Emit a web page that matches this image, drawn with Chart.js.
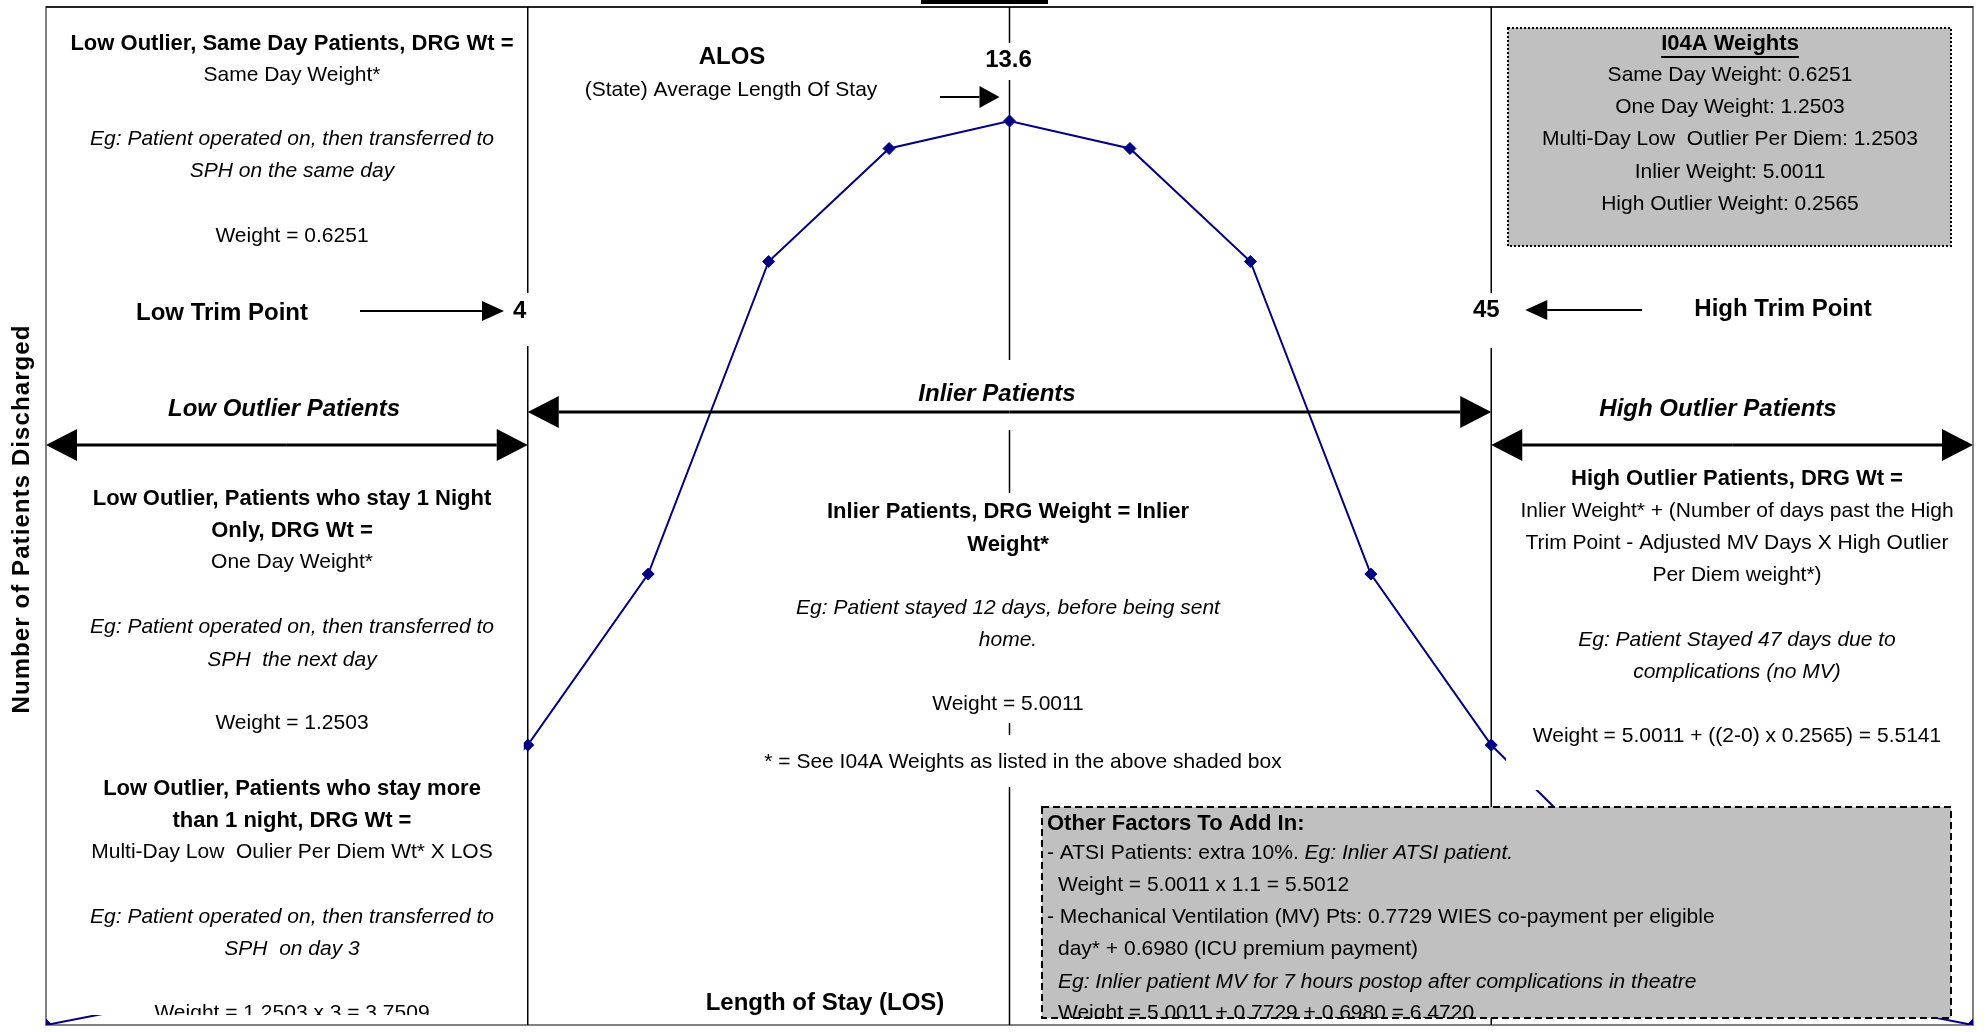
<!DOCTYPE html>
<html>
<head>
<meta charset="utf-8">
<script src="https://cdn.jsdelivr.net/npm/chart.js@4.4.1/dist/chart.umd.min.js"></script>
<style>
html, body { margin: 0; padding: 0; background: #fff; }
#wrap { width: 1986px; height: 1032px; position: relative; }
</style>
</head>
<body>
<div id="wrap"><canvas id="losChart"></canvas></div>
<script>
// LOS positions along the x axis (schematic, not to scale)
const losIndex = [0, 1, 2, 3, 4, 5, 6, 7, 8, 9, 10, 11, 12, 13, 14, 15, 16];
// number of patients discharged (relative height of the curve)
const discharged = [0, 2.3, 9.0, 15.8, 27.5, 44.3, 75.0, 86.1, 88.8, 86.1, 75.0, 44.3, 27.5, 15.8, 9.0, 2.3, 0];
// marker lines: low trim point, ALOS, high trim point
const markerIndex = [4, 8, 12];
const markerLabels = ['4', '13.6', '45'];
// I04A weights box
const weightNames = ['Same Day Weight', 'One Day Weight', 'Multi-Day Low  Outlier Per Diem', 'Inlier Weight', 'High Outlier Weight'];
const weightValues = ['0.6251', '1.2503', '1.2503', '5.0011', '0.2565'];

const FAM = '"Liberation Sans", Arial, sans-serif';
const REG = '21px ' + FAM;
const IT = 'italic 21px ' + FAM;
const B = 'bold 22px ' + FAM;
const BIG = 'bold 24px ' + FAM;
const BIGI = 'italic bold 24px ' + FAM;

// left column notes [text, y, font]
const leftNotes = [
	['Low Outlier, Same Day Patients, DRG Wt =', 44, B],
	['Same Day Weight*', 75, REG],
	['Eg: Patient operated on, then transferred to', 139, IT],
	['SPH on the same day', 171, IT],
	['Weight = 0.6251', 236, REG],
	['Low Outlier, Patients who stay 1 Night', 499, B],
	['Only, DRG Wt =', 531, B],
	['One Day Weight*', 562, REG],
	['Eg: Patient operated on, then transferred to', 627, IT],
	['SPH  the next day', 660, IT],
	['Weight = 1.2503', 723, REG],
	['Low Outlier, Patients who stay more', 789, B],
	['than 1 night, DRG Wt =', 821, B],
	['Multi-Day Low  Oulier Per Diem Wt* X LOS', 852, REG],
	['Eg: Patient operated on, then transferred to', 917, IT],
	['SPH  on day 3', 949, IT]
];
const midNotes = [
	['Inlier Patients, DRG Weight = Inlier', 512, B],
	['Weight*', 545, B],
	['Eg: Patient stayed 12 days, before being sent', 608, IT],
	['home.', 640, IT],
	['Weight = 5.0011', 704, REG]
];
const rightNotes = [
	['High Outlier Patients, DRG Wt =', 479, B],
	['Inlier Weight* + (Number of days past the High', 511, REG],
	['Trim Point - Adjusted MV Days X High Outlier', 543, REG],
	['Per Diem weight*)', 575, REG],
	['Eg: Patient Stayed 47 days due to', 640, IT],
	['complications (no MV)', 672, IT],
	['Weight = 5.0011 + ((2-0) x 0.2565) = 5.5141', 736, REG]
];

function put(ctx, s, x, y, font, align) {
	ctx.font = font;
	ctx.textAlign = align || 'center';
	ctx.fillText(s, x, y);
}

// single arrow, tip at x2
function arrow(ctx, x1, x2, y, head, half, lw) {
	const dir = x2 > x1 ? 1 : -1;
	ctx.lineWidth = lw;
	ctx.beginPath();
	ctx.moveTo(x1, y);
	ctx.lineTo(x2 - dir * head, y);
	ctx.stroke();
	ctx.beginPath();
	ctx.moveTo(x2, y);
	ctx.lineTo(x2 - dir * head, y - half);
	ctx.lineTo(x2 - dir * head, y + half);
	ctx.closePath();
	ctx.fill();
}

function doubleArrow(ctx, x1, x2, y) {
	const mid = (x1 + x2) / 2;
	arrow(ctx, mid, x1, y, 31, 16, 3);
	arrow(ctx, mid, x2, y, 31, 16, 3);
}

function whiteBox(ctx, x1, y1, x2, y2) {
	ctx.fillStyle = '#fff';
	ctx.fillRect(x1, y1, x2 - x1, y2 - y1);
}

const framePlugin = {
	id: 'frame',
	beforeDatasetsDraw(chart) {
		const ctx = chart.ctx;
		const a = chart.chartArea;
		const xs = chart.scales.x;
		ctx.save();
		// plot frame
		ctx.strokeStyle = '#808080';
		ctx.lineWidth = 2;
		ctx.strokeRect(a.left, a.top, a.right - a.left, a.bottom - a.top);
		ctx.strokeStyle = '#222';
		ctx.beginPath();
		ctx.moveTo(a.left, a.top);
		ctx.lineTo(a.right, a.top);
		ctx.stroke();
		// trim points and ALOS
		ctx.strokeStyle = '#000';
		ctx.lineWidth = 1.5;
		markerIndex.forEach(m => {
			const px = xs.getPixelForValue(m);
			ctx.beginPath();
			ctx.moveTo(px, a.top);
			ctx.lineTo(px, a.bottom);
			ctx.stroke();
		});
		ctx.restore();
	}
};

const notesPlugin = {
	id: 'notes',
	afterDatasetsDraw(chart) {
		const ctx = chart.ctx;
		const a = chart.chartArea;
		const xs = chart.scales.x;
		const lowX = xs.getPixelForValue(markerIndex[0]);
		const alosX = xs.getPixelForValue(markerIndex[1]);
		const highX = xs.getPixelForValue(markerIndex[2]);
		ctx.save();
		ctx.textBaseline = 'middle';

		// white text areas that sit over the curve and lines
		whiteBox(ctx, 56, 22, lowX - 4, 1015);
		whiteBox(ctx, 1506, 460, 1965, 790);
		whiteBox(ctx, 900, 360, 1100, 430);
		whiteBox(ctx, 780, 493, 1240, 723);
		whiteBox(ctx, 750, 735, 1300, 787);
		whiteBox(ctx, lowX - 21, 293, lowX + 7, 346);
		whiteBox(ctx, alosX - 24, 43, alosX + 26, 80);
		whiteBox(ctx, highX - 23, 293, highX + 11, 348);

		ctx.fillStyle = '#000';
		ctx.strokeStyle = '#000';

		// cut-off heading at the very top
		ctx.fillRect(921, 0, 127, 4);

		// left column
		leftNotes.forEach(n => put(ctx, n[0], 292, n[1], n[2]));
		ctx.save();
		ctx.beginPath();
		ctx.rect(56, 990, 470, 25);
		ctx.clip();
		put(ctx, 'Weight = 1.2503 x 3 = 3.7509', 292, 1013, REG);
		ctx.restore();

		put(ctx, 'Low Trim Point', 222, 313, BIG);
		arrow(ctx, 360, 504, 311, 22, 10, 2);
		put(ctx, markerLabels[0], lowX - 8, 311, BIG);
		put(ctx, 'Low Outlier Patients', 284, 409, BIGI);
		doubleArrow(ctx, a.left, lowX, 445);

		// middle
		put(ctx, 'ALOS', 732, 57, BIG);
		put(ctx, '(State) Average Length Of Stay', 731, 90, REG);
		arrow(ctx, 940, alosX - 10, 97, 20, 11, 2);
		put(ctx, markerLabels[1], alosX - 1, 60, BIG);
		put(ctx, 'Inlier Patients', 997, 394, BIGI);
		doubleArrow(ctx, lowX, highX, 412);
		midNotes.forEach(n => put(ctx, n[0], 1008, n[1], n[2]));
		put(ctx, '* = See I04A Weights as listed in the above shaded box', 1023, 762, REG);
		put(ctx, 'Length of Stay (LOS)', 825, 1003, BIG);

		// right column
		ctx.fillStyle = '#c0c0c0';
		ctx.fillRect(1508, 28, 443, 218);
		ctx.strokeStyle = '#000';
		ctx.lineWidth = 2;
		ctx.setLineDash([2, 2]);
		ctx.strokeRect(1508, 28, 443, 218);
		ctx.setLineDash([]);
		ctx.fillStyle = '#000';
		put(ctx, 'I04A Weights', 1730, 44, B);
		const tw = ctx.measureText('I04A Weights').width;
		ctx.fillRect(1730 - tw / 2, 56, tw, 2);
		weightNames.forEach((w, i) => {
			put(ctx, w + ': ' + weightValues[i], 1730, 75 + i * 32.3, REG);
		});

		put(ctx, markerLabels[2], highX - 5, 310, BIG);
		arrow(ctx, 1642, highX + 34, 310, 22, 10, 2);
		put(ctx, 'High Trim Point', 1783, 309, BIG);
		put(ctx, 'High Outlier Patients', 1718, 409, BIGI);
		doubleArrow(ctx, highX, a.right, 445);
		rightNotes.forEach(n => put(ctx, n[0], 1737, n[1], n[2]));

		// other factors box
		ctx.fillStyle = '#c0c0c0';
		ctx.fillRect(1042, 807, 909, 211);
		ctx.save();
		ctx.beginPath();
		ctx.rect(1042, 807, 909, 211);
		ctx.clip();
		ctx.fillStyle = '#000';
		put(ctx, 'Other Factors To Add In:', 1047, 824, B, 'left');
		put(ctx, '- ATSI Patients: extra 10%. ', 1047, 853, REG, 'left');
		const w1 = ctx.measureText('- ATSI Patients: extra 10%. ').width;
		put(ctx, 'Eg: Inlier ATSI patient.', 1047 + w1, 853, IT, 'left');
		put(ctx, 'Weight = 5.0011 x 1.1 = 5.5012', 1058, 885, REG, 'left');
		put(ctx, '- Mechanical Ventilation (MV) Pts: 0.7729 WIES co-payment per eligible', 1047, 917, REG, 'left');
		put(ctx, 'day* + 0.6980 (ICU premium payment)', 1058, 949, REG, 'left');
		put(ctx, 'Eg: Inlier patient MV for 7 hours postop after complications in theatre', 1058, 982, IT, 'left');
		put(ctx, 'Weight = 5.0011 + 0.7729 + 0.6980 = 6.4720', 1058, 1013, REG, 'left');
		ctx.restore();
		ctx.strokeStyle = '#000';
		ctx.lineWidth = 2;
		ctx.setLineDash([7, 4]);
		ctx.strokeRect(1042, 807, 909, 211);
		ctx.setLineDash([]);

		// y axis title
		ctx.save();
		ctx.translate(22, 519);
		ctx.rotate(-Math.PI / 2);
		ctx.font = 'bold 24px ' + FAM;
		const title = 'Number of Patients Discharged';
		const plain = ctx.measureText(title).width;
		ctx.letterSpacing = Math.max(0, (388 - plain) / (title.length - 1)).toFixed(2) + 'px';
		ctx.textAlign = 'center';
		ctx.fillStyle = '#000';
		ctx.fillText(title, 0, 0);
		ctx.restore();

		ctx.restore();
	}
};

document.addEventListener('DOMContentLoaded', () => {
	const canvas = document.querySelector('#losChart');
	new Chart(canvas, {
		type: 'line',
		data: {
			datasets: [{
				data: losIndex.map((x, i) => ({ x: x, y: discharged[i] })),
				borderColor: '#000080',
				backgroundColor: '#000080',
				borderWidth: 2,
				pointStyle: 'rectRot',
				pointRadius: 6,
				pointBorderWidth: 1,
				tension: 0
			}]
		},
		options: {
			responsive: true,
			maintainAspectRatio: false,
			animation: false,
			layout: { padding: { left: 46, right: 13, top: 6, bottom: 3 } },
			scales: {
				x: { type: 'linear', min: 0, max: 16, display: false },
				y: { min: 0, max: 100, display: false }
			},
			plugins: {
				legend: { display: false },
				tooltip: { enabled: false }
			}
		},
		plugins: [framePlugin, notesPlugin]
	});
});
</script>
</body>
</html>
